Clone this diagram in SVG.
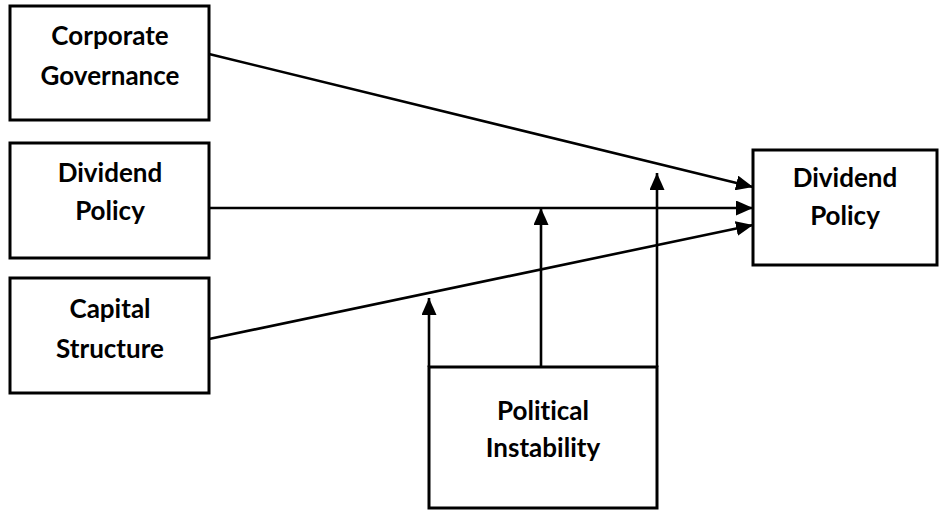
<svg xmlns="http://www.w3.org/2000/svg" width="940" height="510" viewBox="0 0 940 510">
<style>
.box{fill:#fff;stroke:#000;stroke-width:3}
.lbl{font-family:Lato,"Open Sans","Liberation Sans",sans-serif;font-weight:bold;font-size:26px;fill:#000;text-anchor:middle;font-variant-ligatures:none;font-feature-settings:"liga" 0}
.con{stroke:#000;stroke-width:2.6;fill:none}
</style>
<defs>
<marker id="ah" markerWidth="17" markerHeight="15" refX="17" refY="7.5" orient="auto" markerUnits="userSpaceOnUse">
<path d="M0,0 L17,7.5 L0,15 Z" fill="#000"/>
</marker>
</defs>
<rect width="940" height="510" fill="#fff"/>
<g id="connectors">
<line class="con" x1="209" y1="54" x2="753" y2="187" marker-end="url(#ah)"/>
<line class="con" x1="209" y1="208" x2="753" y2="208" marker-end="url(#ah)"/>
<line class="con" x1="209" y1="339" x2="753" y2="225" marker-end="url(#ah)"/>
<line class="con" x1="429" y1="367" x2="429" y2="298" marker-end="url(#ah)"/>
<line class="con" x1="541" y1="367" x2="541" y2="208" marker-end="url(#ah)"/>
<line class="con" x1="657" y1="367" x2="657" y2="173" marker-end="url(#ah)"/>
</g>
<g id="corporate-governance">
<rect class="box" x="10" y="6" width="199" height="114"/>
<text class="lbl" x="110" y="45">Corporate</text>
<text class="lbl" x="110" y="85">Governance</text>
</g>
<g id="dividend-policy-left">
<rect class="box" x="10" y="143" width="199" height="115"/>
<text class="lbl" x="110" y="182">Dividend</text>
<text class="lbl" x="110" y="220">Policy</text>
</g>
<g id="capital-structure">
<rect class="box" x="10" y="278" width="199" height="115"/>
<text class="lbl" x="110" y="318">Capital</text>
<text class="lbl" x="110" y="358">Structure</text>
</g>
<g id="dividend-policy-right">
<rect class="box" x="753" y="150" width="184" height="115"/>
<text class="lbl" x="845" y="187">Dividend</text>
<text class="lbl" x="845" y="225">Policy</text>
</g>
<g id="political-instability">
<rect class="box" x="429" y="367" width="228" height="141"/>
<text class="lbl" x="543" y="420">Political</text>
<text class="lbl" x="543" y="457">Instability</text>
</g>
</svg>
